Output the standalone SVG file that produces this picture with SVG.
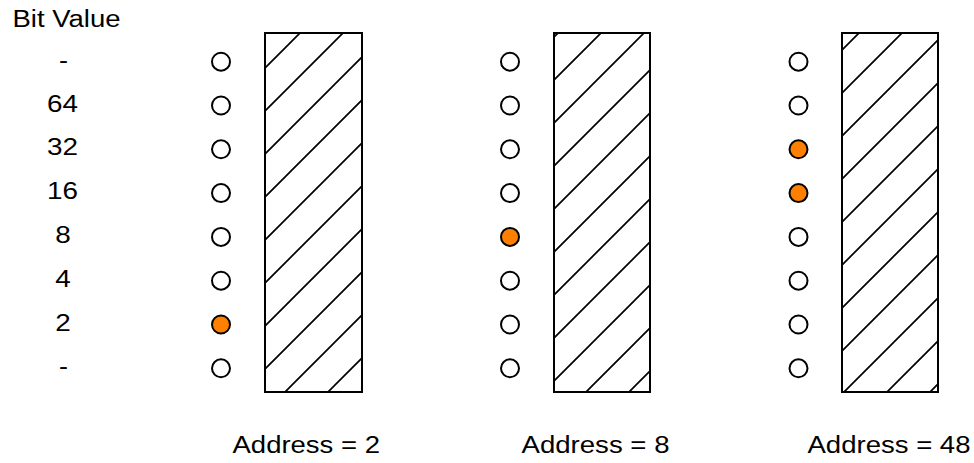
<svg xmlns="http://www.w3.org/2000/svg" width="974" height="463" viewBox="0 0 974 463">
<style>
text{font-family:"Liberation Sans",Arial,Helvetica,sans-serif;font-size:23px;fill:#000}
.lbl{text-anchor:middle}
.bit{stroke:#000;stroke-width:2;fill:#fff}
.on{fill:#ff8000}
.reg{fill:url(#hatch);stroke:#000;stroke-width:2}
</style>
<defs>
<pattern id="hatch" patternUnits="userSpaceOnUse" x="32" y="0" width="43" height="43">
<rect width="43" height="43" fill="#fff"/>
<path d="M-5,5 L5,-5 M-5,48 L48,-5 M38,48 L48,38" stroke="#000" stroke-width="1.7" fill="none"/>
</pattern>
</defs>
<text x="12.5" y="26.5" textLength="108" lengthAdjust="spacingAndGlyphs">Bit Value</text>
<g id="labels">
<text class="lbl" x="63.5" y="67.5" textLength="9" lengthAdjust="spacingAndGlyphs">-</text>
<text class="lbl" x="62.5" y="111.5" textLength="31" lengthAdjust="spacingAndGlyphs">64</text>
<text class="lbl" x="62.5" y="155.3" textLength="31" lengthAdjust="spacingAndGlyphs">32</text>
<text class="lbl" x="62.5" y="199.1" textLength="31" lengthAdjust="spacingAndGlyphs">16</text>
<text class="lbl" x="63" y="242.9" textLength="15.5" lengthAdjust="spacingAndGlyphs">8</text>
<text class="lbl" x="63" y="286.7" textLength="15.5" lengthAdjust="spacingAndGlyphs">4</text>
<text class="lbl" x="63" y="330.5" textLength="15.5" lengthAdjust="spacingAndGlyphs">2</text>
<text class="lbl" x="63.5" y="374.3" textLength="9" lengthAdjust="spacingAndGlyphs">-</text>
</g>
<g id="reg1">
<rect class="reg" x="265" y="33" width="97" height="359"/>
<circle class="bit" cx="221" cy="61.7" r="9"/>
<circle class="bit" cx="221" cy="105.5" r="9"/>
<circle class="bit" cx="221" cy="149.3" r="9"/>
<circle class="bit" cx="221" cy="193.1" r="9"/>
<circle class="bit" cx="221" cy="236.9" r="9"/>
<circle class="bit" cx="221" cy="280.7" r="9"/>
<circle class="bit on" cx="221" cy="324.5" r="9"/>
<circle class="bit" cx="221" cy="368.3" r="9"/>
<text x="232.5" y="453" textLength="147.5" lengthAdjust="spacingAndGlyphs">Address = 2</text>
</g>
<g id="reg2">
<rect class="reg" x="554" y="33" width="96" height="359"/>
<circle class="bit" cx="510" cy="61.7" r="9"/>
<circle class="bit" cx="510" cy="105.5" r="9"/>
<circle class="bit" cx="510" cy="149.3" r="9"/>
<circle class="bit" cx="510" cy="193.1" r="9"/>
<circle class="bit on" cx="510" cy="236.9" r="9"/>
<circle class="bit" cx="510" cy="280.7" r="9"/>
<circle class="bit" cx="510" cy="324.5" r="9"/>
<circle class="bit" cx="510" cy="368.3" r="9"/>
<text x="521.5" y="453" textLength="148" lengthAdjust="spacingAndGlyphs">Address = 8</text>
</g>
<g id="reg3">
<rect class="reg" x="842" y="33" width="96" height="359"/>
<circle class="bit" cx="798.5" cy="61.7" r="9"/>
<circle class="bit" cx="798.5" cy="105.5" r="9"/>
<circle class="bit on" cx="798.5" cy="149.3" r="9"/>
<circle class="bit on" cx="798.5" cy="193.1" r="9"/>
<circle class="bit" cx="798.5" cy="236.9" r="9"/>
<circle class="bit" cx="798.5" cy="280.7" r="9"/>
<circle class="bit" cx="798.5" cy="324.5" r="9"/>
<circle class="bit" cx="798.5" cy="368.3" r="9"/>
<text x="807.5" y="453" textLength="163" lengthAdjust="spacingAndGlyphs">Address = 48</text>
</g>
<g id="connectors"/>
</svg>
